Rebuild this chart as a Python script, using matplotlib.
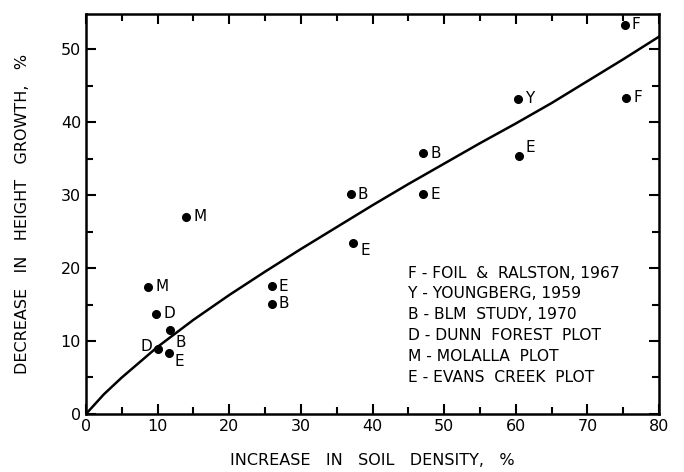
import numpy as np
import matplotlib
matplotlib.use("Agg")
import matplotlib.pyplot as plt
from matplotlib.ticker import MultipleLocator

# observed points: soil density increase (%), height growth decrease (%), source letter
dens = [14, 37, 75.2, 60.3, 75.4, 47.1, 60.4, 47.1, 37.3, 8.7, 9.8, 11.7, 10.1, 11.6, 25.9, 25.9]
growth = [27.0, 30.1, 53.3, 43.2, 43.3, 35.7, 35.4, 30.1, 23.4, 17.4, 13.7, 11.5, 8.9, 8.4, 17.5, 15.1]
letters = ['M', 'B', 'F', 'Y', 'F', 'B', 'E', 'E', 'E', 'M', 'D', 'B', 'D', 'E', 'E', 'B']

# fitted curve
curve_x = [0, 2.5, 5, 10, 15, 20, 25, 30, 35, 40, 45, 50, 55, 60, 65, 70, 75, 80]
curve_y = [0, 2.7, 5.0, 9.2, 12.9, 16.3, 19.5, 22.6, 25.6, 28.6, 31.5, 34.3, 37.1, 39.8, 42.6, 45.6, 48.6, 51.7]

legend_lines = ["F - FOIL  &  RALSTON, 1967",
                "Y - YOUNGBERG, 1959",
                "B - BLM  STUDY, 1970",
                "D - DUNN  FOREST  PLOT",
                "M - MOLALLA  PLOT",
                "E - EVANS  CREEK  PLOT"]

# label offsets in points (dx, dy) per point, default right of dot
offs = [(5, 0)] * len(dens)
offs[6] = (5, 6)     # E at 60
offs[8] = (5, -5)    # E at 37
offs[11] = (4, -9)   # B at 12
offs[12] = (-13, 2)  # D at 10
offs[13] = (4, -6)   # E at 12

fig = plt.figure(figsize=(6.84, 4.72), dpi=100)
ax = fig.add_axes([0.1257, 0.1229, 0.8378, 0.8474])

ax.plot(curve_x, curve_y, color='black', lw=1.8)
ax.plot(dens, growth, 'o', color='black', ms=5.5)
for x, y, l, o in zip(dens, growth, letters, offs):
    ax.annotate(l, (x, y), xytext=o, textcoords='offset points',
                ha='left', va='center', fontsize=11)

for i, s in enumerate(legend_lines):
    ax.text(44.9, 19.3 - i * 2.85, s, fontsize=11.2, va='center', ha='left')

ax.set_xlim(0, 80)
ax.set_ylim(0, 54.8)
ax.xaxis.set_major_locator(MultipleLocator(10))
ax.xaxis.set_minor_locator(MultipleLocator(5))
ax.yaxis.set_major_locator(MultipleLocator(10))
ax.yaxis.set_minor_locator(MultipleLocator(5))
ax.tick_params(which='both', direction='in', top=True, right=True, width=1.5,
               labelsize=11.5)
ax.tick_params(which='major', length=7)
ax.tick_params(which='minor', length=5)
for sp in ax.spines.values():
    sp.set_linewidth(1.8)

ax.set_xlabel("INCREASE   IN   SOIL   DENSITY,   %", fontsize=11.5, labelpad=14)
ax.set_ylabel("DECREASE   IN   HEIGHT   GROWTH,   %", fontsize=11.5, labelpad=22)

fig.savefig("out.png", dpi=100)
